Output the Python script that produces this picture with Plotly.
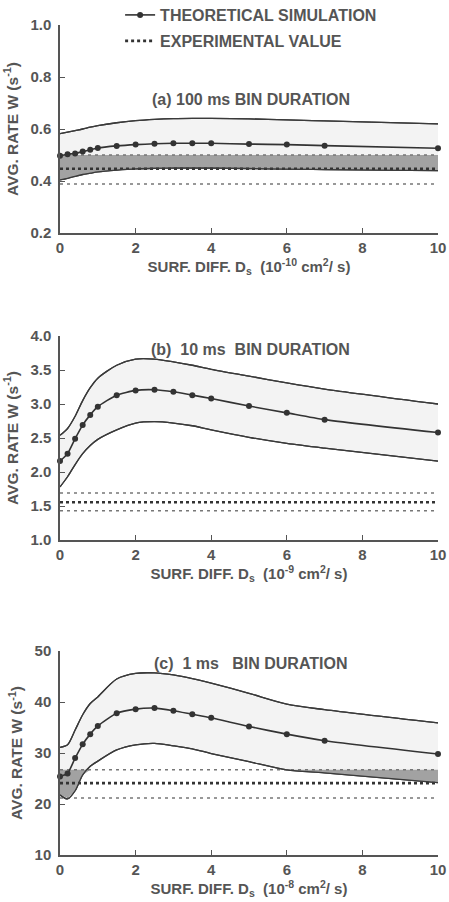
import plotly.graph_objects as go
from plotly.subplots import make_subplots

# Surface diffusion values where the simulation was run (same grid in all panels)
x_sim = [0, 0.2, 0.4, 0.6, 0.8, 1.0, 1.5, 2, 2.5, 3, 3.5, 4, 5, 6, 7, 10]

# (a) 100 ms bin duration
a_sim = [0.497, 0.503, 0.506, 0.513, 0.520, 0.527, 0.535, 0.540, 0.543, 0.545, 0.545, 0.545, 0.542, 0.540, 0.536, 0.526]
a_hi = [0.582, 0.588, 0.594, 0.600, 0.607, 0.613, 0.624, 0.632, 0.637, 0.640, 0.641, 0.641, 0.639, 0.635, 0.631, 0.620]
a_lo = [0.404, 0.410, 0.418, 0.425, 0.430, 0.435, 0.442, 0.447, 0.449, 0.450, 0.450, 0.450, 0.448, 0.446, 0.444, 0.440]
a_exp = [0.388, 0.447, 0.500]  # low, mean, high

# (b) 10 ms bin duration
b_sim = [2.16, 2.27, 2.49, 2.69, 2.84, 2.96, 3.13, 3.20, 3.21, 3.18, 3.13, 3.08, 2.97, 2.87, 2.77, 2.58]
b_hi = [2.54, 2.64, 2.82, 3.05, 3.24, 3.38, 3.57, 3.66, 3.66, 3.62, 3.57, 3.51, 3.41, 3.31, 3.22, 3.00]
b_lo = [1.78, 1.93, 2.11, 2.27, 2.39, 2.48, 2.62, 2.72, 2.74, 2.72, 2.68, 2.62, 2.51, 2.42, 2.35, 2.16]
b_exp = [1.43, 1.555, 1.69]

# (c) 1 ms bin duration
c_sim = [25.4, 26.0, 29.0, 31.7, 33.7, 35.3, 37.8, 38.6, 38.8, 38.3, 37.6, 36.9, 35.2, 33.7, 32.4, 29.8]
c_hi = [31.1, 31.6, 34.5, 37.5, 39.7, 41.0, 44.5, 45.6, 45.7, 45.3, 44.6, 43.7, 41.7, 39.6, 38.5, 35.9]
c_lo = [21.8, 21.0, 22.6, 25.7, 27.4, 28.4, 30.6, 31.6, 31.9, 31.4, 30.8, 29.9, 28.3, 26.7, 26.1, 24.2]
c_exp = [21.2, 24.1, 26.7]

panels = [
    (a_sim, a_hi, a_lo, a_exp, [0.2, 1.0], 0.2, '.1f', '(a) 100 ms BIN DURATION', '-10'),
    (b_sim, b_hi, b_lo, b_exp, [1.0, 4.0], 0.5, '.1f', '(b)  10 ms  BIN DURATION', '-9'),
    (c_sim, c_hi, c_lo, c_exp, [10, 50], 10, 'd', '(c)  1 ms   BIN DURATION', '-8'),
]

# pixel rows of each plot area (top, bottom) in the 902 px tall page
rows_px = [(25, 233), (336, 540), (651, 855)]
title_px = [100, 349, 663]
H = 902
ink = '#555555'
FONT = 'Liberation Sans'

fig = make_subplots(rows=3, cols=1)

for i, (sim, hi, lo, exp, yr, dt, fmt, title, expo) in enumerate(panels):
    r = i + 1
    x = x_sim
    lead = (i == 0)
    # theoretical band, light fill
    fig.add_trace(go.Scatter(x=x, y=hi, mode='lines', line=dict(color='#3a3a3a', width=1.3, shape='spline', smoothing=0.8),
                             showlegend=False, hoverinfo='skip'), row=r, col=1)
    fig.add_trace(go.Scatter(x=x, y=lo, mode='lines', line=dict(color='#3a3a3a', width=1.3, shape='spline', smoothing=0.8),
                             fill='tonexty', fillcolor='#f3f3f3', showlegend=False, hoverinfo='skip'), row=r, col=1)
    # overlap of theory band and experimental band, dark fill
    ov_hi = [min(h, exp[2]) for h in hi]
    ov_lo = [min(max(l, exp[0]), oh) for l, oh in zip(lo, ov_hi)]
    fig.add_trace(go.Scatter(x=x, y=ov_hi, mode='lines', line=dict(width=0), showlegend=False, hoverinfo='skip'), row=r, col=1)
    fig.add_trace(go.Scatter(x=x, y=ov_lo, mode='lines', line=dict(width=0), fill='tonexty', fillcolor='#a2a2a2',
                             showlegend=False, hoverinfo='skip'), row=r, col=1)
    # experimental value (mean heavy, range light)
    for k, ev in enumerate(exp):
        heavy = (k == 1)
        fig.add_trace(go.Scatter(x=[0, 10], y=[ev, ev], mode='lines',
                                 line=dict(color='#333333' if heavy else '#777777', width=2.6 if heavy else 1.5,
                                           dash='3px,3px' if heavy else '3px,4px'),
                                 name='<b>EXPERIMENTAL VALUE</b>', legend='legend2',
                                 showlegend=lead and heavy, hoverinfo='skip'), row=r, col=1)
    # redraw band edges above the fills
    for edge in (hi, lo):
        fig.add_trace(go.Scatter(x=x, y=edge, mode='lines', line=dict(color='#3a3a3a', width=1.3, shape='spline', smoothing=0.8),
                                 showlegend=False, hoverinfo='skip'), row=r, col=1)
    # theoretical simulation
    fig.add_trace(go.Scatter(x=x, y=sim, mode='lines+markers', cliponaxis=False,
                             line=dict(color='#333333', width=1.6, shape='spline', smoothing=0.6),
                             marker=dict(color='#333333', size=6),
                             name='<b>THEORETICAL SIMULATION</b>', legend='legend',
                             showlegend=lead), row=r, col=1)

    top, bot = rows_px[i]
    fig.update_yaxes(row=r, col=1, domain=[1 - bot / H, 1 - top / H], range=yr, dtick=dt, tickformat=fmt,
                     showline=True, linecolor=ink, linewidth=1.5, ticks='inside', ticklen=5, tickcolor=ink,
                     showgrid=False, zeroline=False, ticklabelstandoff=4, automargin=False,
                     tickfont=dict(family=FONT, size=15, color=ink, weight='bold'),
                     title=dict(text='AVG. RATE W (s<sup>-1</sup>)', standoff=8,
                                font=dict(family=FONT, size=15.5, color=ink, weight='bold')))
    fig.update_xaxes(row=r, col=1, range=[0, 10], dtick=2, automargin=False,
                     showline=True, linecolor=ink, linewidth=1.5, ticks='inside', ticklen=5, tickcolor=ink,
                     showgrid=False, zeroline=False,
                     tickfont=dict(family=FONT, size=15, color=ink, weight='bold'),
                     title=dict(text='SURF. DIFF. D<sub>s</sub>  (10<sup>' + expo + '</sup> cm<sup>2</sup>/ s)', standoff=6,
                                font=dict(family=FONT, size=15, color=ink, weight='bold')))
    fig.add_annotation(text='<b>' + title + '</b>', xref='paper', x=0.505, yref='paper',
                       y=1 - title_px[i] / H, yanchor='middle', showarrow=False,
                       font=dict(family=FONT, size=16, color=ink))

fig.update_layout(
    width=449, height=902,
    margin=dict(l=60, r=11, t=0, b=0, autoexpand=False),
    paper_bgcolor='white', plot_bgcolor='white',
    legend=dict(x=0.159, y=1 + 2 / H, xanchor='left', yanchor='top', bgcolor='rgba(0,0,0,0)',
                font=dict(family=FONT, size=16, color=ink)),
    legend2=dict(x=0.159, y=1 - 24 / H, xanchor='left', yanchor='top', bgcolor='rgba(0,0,0,0)',
                 font=dict(family=FONT, size=16, color=ink)),
)

# page body has a default 8px margin; drop it so the figure sits at the window corner
fig.write_html("out.html", config={'displayModeBar': False},
               post_script="document.body.style.margin='0px';")
